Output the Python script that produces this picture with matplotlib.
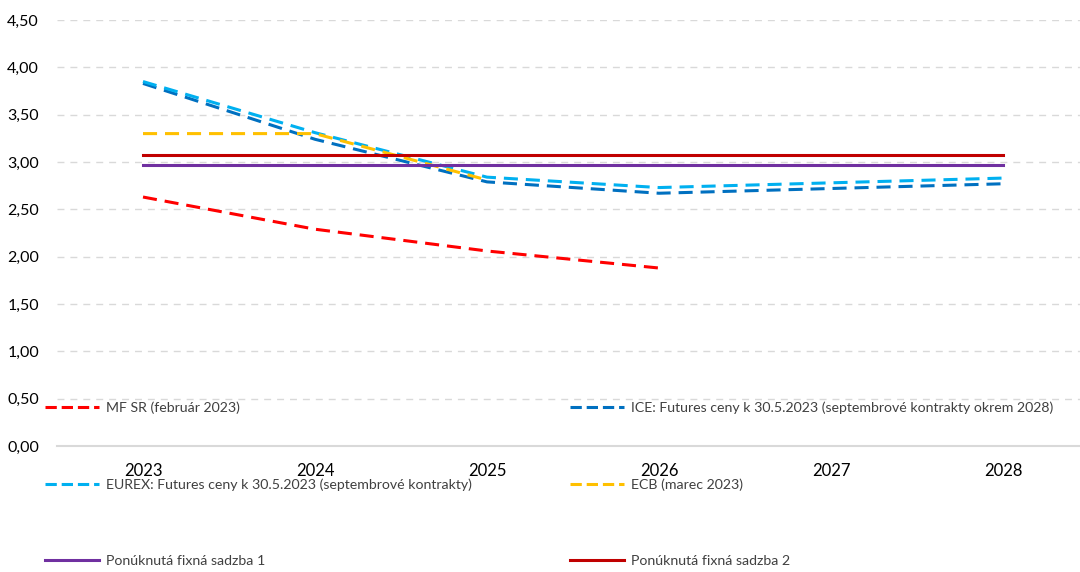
import matplotlib.pyplot as plt
from matplotlib.lines import Line2D
from matplotlib.ticker import FuncFormatter

plt.rcParams['font.family'] = ['Lato', 'DejaVu Sans']

# data
years = ['2023', '2024', '2025', '2026', '2027', '2028']
mfsr = [2.63, 2.29, 2.06, 1.88]
ice = [3.83, 3.24, 2.79, 2.67, 2.72, 2.77]
eurex = [3.85, 3.31, 2.84, 2.73, 2.78, 2.83]
ecb = [3.30, 3.30, 2.81]
fixed1 = [2.97, 2.97, 2.97, 2.97, 2.97, 2.97]
fixed2 = [3.07, 3.07, 3.07, 3.07, 3.07, 3.07]
y_ticks = [0, 0.5, 1.0, 1.5, 2.0, 2.5, 3.0, 3.5, 4.0, 4.5]

labels = ['MF SR (február 2023)',
          'ICE: Futures ceny k 30.5.2023 (septembrové kontrakty okrem 2028)',
          'EUREX: Futures ceny k 30.5.2023 (septembrové kontrakty)',
          'ECB (marec 2023)',
          'Ponúknutá fixná sadzba 1',
          'Ponúknutá fixná sadzba 2']
colors = ['#FF0000', '#0070C0', '#00B0F0', '#FFC000', '#7030A0', '#C00000']
dash = (0, (4.6, 2.6))

W, H = 1080, 572
fig = plt.figure(figsize=(W / 100, H / 100), dpi=100)
left, right, top, bottom = 57, 1080, 20, 446
ax = fig.add_axes([left / W, 1 - bottom / H, (right - left) / W, (bottom - top) / H])

series = [mfsr, ice, eurex, ecb, fixed1, fixed2]
handles = []
for i, vals in enumerate(series):
    ls = '-' if i >= 4 else dash
    h, = ax.plot(range(len(vals)), vals, color=colors[i], lw=2.2,
                 linestyle=ls, dash_capstyle='butt', zorder=3 + i)
    handles.append(h)

ax.set_xlim(-0.5, (right - 143) / 172)
ax.set_ylim(0, 4.5)
ax.set_xticks(range(len(years)))
ax.set_xticklabels(years)
ax.set_yticks(y_ticks)
ax.yaxis.set_major_formatter(FuncFormatter(lambda v, p: f'{v:.2f}'.replace('.', ',')))
ax.tick_params(axis='x', length=0, pad=12, labelsize=12, colors='#000000')
ax.tick_params(axis='y', length=0, pad=13, labelsize=11.5, colors='#000000')

ax.grid(axis='y', color='#D9D9D9', lw=1.0, linestyle=(0, (5, 4.3)))
ax.set_axisbelow(True)
for s in ['top', 'right', 'left']:
    ax.spines[s].set_visible(False)
ax.spines['bottom'].set_color('#D9D9D9')
ax.spines['bottom'].set_linewidth(1.5)
ax.spines['bottom'].set_zorder(2)

# legend entries are laid out in two columns over the lower part of the chart
legend_pos = [(45, 408), (570, 408), (45, 485), (570, 485), (45, 561), (570, 561)]
for h, lab, (x, y) in zip(handles, labels, legend_pos):
    proxy = Line2D([], [], color=h.get_color(), lw=2.2, linestyle=h.get_linestyle(),
                   dash_capstyle='butt')
    leg = fig.legend([proxy], [lab], loc='center left', bbox_to_anchor=(x / W, 1 - y / H),
                     frameon=False, borderpad=0, borderaxespad=0, fontsize=10.2,
                     handlelength=3.8, handletextpad=0.5)
    leg.get_texts()[0].set_color('#404040')

fig.savefig('out.png', dpi=100)
